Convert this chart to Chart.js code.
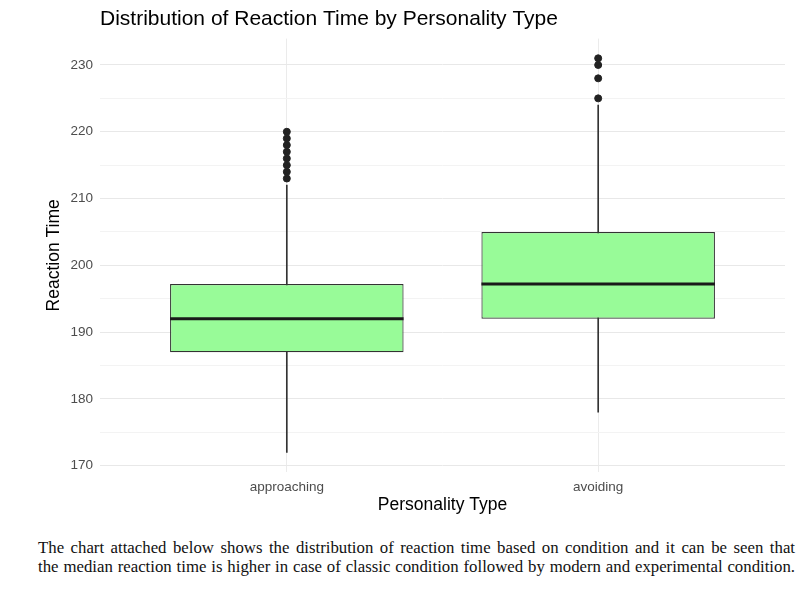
<!DOCTYPE html>
<html>
<head>
<meta charset="utf-8">
<script src="https://cdn.jsdelivr.net/npm/chart.js@4.4.1/dist/chart.umd.min.js"></script>
<style>
  html, body { margin: 0; padding: 0; background: #fff; }
  #wrap { position: relative; width: 800px; height: 520px; }
  #caption {
    position: absolute; left: 38px; top: 538px; width: 757px;
    font-family: "Liberation Serif", "DejaVu Serif", serif;
    font-size: 16.8px; line-height: 19px; color: #111;
  }
  #caption div { text-align: justify; text-align-last: justify; white-space: nowrap; }
</style>
</head>
<body>
<div id="wrap"><canvas id="boxChart" width="800" height="520"></canvas></div>
<div id="caption">
  <div>The chart attached below shows the distribution of reaction time based on condition and it can be seen that</div>
  <div>the median reaction time is higher in case of classic condition followed by modern and experimental condition.</div>
</div>
<script>
// Данные диаграммы
const categories = ['approaching', 'avoiding'];
const whiskerLow = [172, 178];
const q1 = [187, 192];
const median = [192, 197.2];
const q3 = [197.2, 205];
const whiskerHigh = [212, 224];
const outliers = [
  [213, 214, 215, 216, 217, 218, 219, 220],
  [225, 228, 230, 231]
];
const yTicks = [170, 175, 180, 185, 190, 195, 200, 205, 210, 215, 220, 225, 230];

// Позиции категорий на оси x (1, 2, ...)
const xPos = categories.map((c, i) => i + 1);

const outlierPoints = [];
outliers.forEach((list, i) => {
  list.forEach((v) => outlierPoints.push({ x: xPos[i], y: v }));
});

const sans = '"Liberation Sans", Arial, sans-serif';

// Плагин: заголовок и медианы
const extras = {
  id: 'extras',
  afterDatasetsDraw(chart) {
    const ctx = chart.ctx;
    const yScale = chart.scales.y;
    const meta = chart.getDatasetMeta(1);
    ctx.save();
    ctx.strokeStyle = '#1a1a1a';
    ctx.lineWidth = 3;
    meta.data.forEach((bar, i) => {
      const y = yScale.getPixelForValue(median[i]);
      ctx.beginPath();
      ctx.moveTo(bar.x - bar.width / 2, y);
      ctx.lineTo(bar.x + bar.width / 2, y);
      ctx.stroke();
    });
    ctx.restore();
  },
  afterDraw(chart) {
    const ctx = chart.ctx;
    ctx.save();
    ctx.fillStyle = '#000';
    ctx.font = '21px ' + sans;
    ctx.textBaseline = 'middle';
    ctx.fillText('Distribution of Reaction Time by Personality Type', chart.chartArea.left, 19);
    ctx.restore();
  }
};

const ctx = document.getElementById('boxChart').getContext('2d');
new Chart(ctx, {
  data: {
    datasets: [
      {
        type: 'bar',
        label: 'whisker',
        data: xPos.map((x, i) => ({ x: x, y: [whiskerLow[i], whiskerHigh[i]] })),
        backgroundColor: '#333333',
        borderWidth: 0,
        barThickness: 1,
        grouped: false,
        order: 3
      },
      {
        type: 'bar',
        label: 'box',
        data: xPos.map((x, i) => ({ x: x, y: [q1[i], q3[i]] })),
        backgroundColor: '#98fb98',
        borderColor: '#333333',
        borderWidth: 1.2,
        borderSkipped: false,
        categoryPercentage: 1,
        barPercentage: 0.75,
        grouped: false,
        order: 2
      },
      {
        type: 'scatter',
        label: 'outliers',
        data: outlierPoints,
        backgroundColor: '#222222',
        borderColor: '#222222',
        pointRadius: 3.5,
        order: 1
      }
    ]
  },
  options: {
    responsive: false,
    animation: false,
    layout: { padding: { left: 44, right: 15, top: 38.6, bottom: 0 } },
    plugins: {
      legend: { display: false },
      tooltip: { enabled: false },
      title: { display: false }
    },
    scales: {
      x: {
        type: 'linear',
        offset: false,
        min: 0.4,
        max: 2.6,
        afterBuildTicks: (scale) => { scale.ticks = xPos.map((v) => ({ value: v })); },
        afterFit: (scale) => { scale.height = 48; },
        ticks: {
          callback: (v) => categories[v - 1],
          color: '#4d4d4d',
          font: { family: sans, size: 13.5 },
          padding: 7,
          maxRotation: 0
        },
        grid: { offset: false, color: '#ebebeb', lineWidth: 1, drawTicks: false },
        border: { display: false },
        title: {
          display: true,
          text: 'Personality Type',
          color: '#000',
          font: { family: sans, size: 17.5 },
          padding: { top: 4, bottom: 4 }
        }
      },
      y: {
        min: 169.05,
        max: 233.95,
        afterBuildTicks: (scale) => { scale.ticks = yTicks.map((v) => ({ value: v })); },
        afterFit: (scale) => { scale.width = 56; },
        ticks: {
          callback: (v) => (v % 10 === 0 ? v : ''),
          color: '#4d4d4d',
          font: { family: sans, size: 13.5 },
          padding: 7
        },
        grid: {
          color: (c) => (c.tick && c.tick.value % 10 === 0 ? '#e8e8e8' : '#f3f3f3'),
          lineWidth: 1,
          drawTicks: false
        },
        border: { display: false },
        title: {
          display: true,
          text: 'Reaction Time',
          color: '#000',
          font: { family: sans, size: 17.5 },
          padding: { top: 0, bottom: 4 }
        }
      }
    }
  },
  plugins: [extras]
});
</script>
</body>
</html>
